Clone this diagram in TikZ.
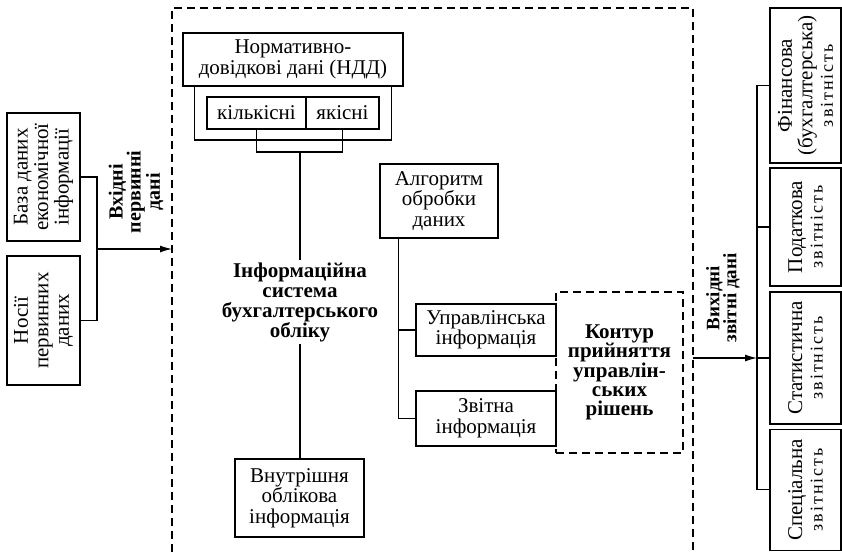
\documentclass[tikz,border=0pt]{standalone}
\usepackage{fontspec}
\setmainfont{Liberation Serif}
\newfontfamily\spacedserif[LetterSpace=11]{Liberation Serif}
\usetikzlibrary{arrows.meta}

\begin{document}
\begin{tikzpicture}[x=1pt, y=-1pt,
        box/.style={draw, line width=1.1pt, inner sep=1pt, align=center,
                    font=\fontsize{21}{20.5}\selectfont},
        sidebox/.style={box, rotate=90},
        bold/.style={align=center, inner sep=2pt, font=\fontsize{21}{20}\selectfont\bfseries},
        link/.style={line width=1.1pt},
        arr/.style={link, -{Latex[length=12pt, width=7pt]}},
        frame/.style={line width=1.1pt, dash pattern=on 8pt off 5pt}]
        \useasboundingbox (0,0) rectangle (842,552);

        % outer frame (open at the bottom)
        \draw[frame] (172,552) -- (172,8) -- (693,8) -- (693,552);

        % primary data sources
        \node[sidebox, minimum width=128pt, minimum height=73pt] (baza) at (43.5,177) {База даних\\економічної\\інформації};
        \node[sidebox, minimum width=129pt, minimum height=73pt] (nosii) at (43.5,320.5) {Носії\\первинних\\даних};
        \node[bold, rotate=90, font=\fontsize{20}{18}\selectfont\bfseries] (vkhid) at (136,192) {Вхідні\\первинні\\дані};

        % input
        \coordinate (inJ) at (97,249);
        \coordinate (inEnd) at (172,249);
        \draw[link] (baza.south) -| (inJ) |- (nosii.south);
        \draw[arr] (inJ) -- (inEnd);

        % NDD
        \node[box, minimum width=220pt, minimum height=53pt] (ndd) at (293,59.5) {Нормативно-\\довідкові дані (НДД)};
        \node[box, minimum width=99pt, minimum height=32pt] (kil) at (256.5,113) {кількісні};
        \node[box, minimum width=73pt, minimum height=32pt] (yak) at (342.5,113) {якісні};
        \coordinate (nddJ) at (293,140);
        \coordinate (kJ) at (300,152);
        \draw[link] ([xshift=12pt]ndd.south west) |- (nddJ) -| ([xshift=-12pt]ndd.south east);
        \draw[link] (kil.south) |- (kJ) -| (yak.south);

        % accounting system
        \node[bold] (isbo) at (300,302) {Інформаційна\\система\\бухгалтерського\\обліку};
        \node[box, minimum width=129pt, minimum height=78pt] (vnut) at (299.5,498) {Внутрішня\\облікова\\інформація};
        \draw[link] (kJ) -- (isbo.north);
        \draw[link] (isbo.south) -- (isbo.south |- vnut.north);

        % processing
        \node[box, minimum width=118pt, minimum height=74pt] (alg) at (439,201) {Алгоритм\\обробки\\даних};
        \node[box, minimum width=140pt, minimum height=52pt] (upr) at (486,330) {Управлінська\\інформація};
        \node[box, minimum width=140pt, minimum height=55pt] (zvit) at (486,418.5) {Звітна\\інформація};
        \draw[link] ([xshift=19pt]alg.south west) coordinate (algL) |- (zvit.west);
        \draw[link] (upr.west) -- (upr.west -| algL);

        % decision contour
        \node[frame, draw, align=center, minimum width=127pt, minimum height=161pt,
              font=\fontsize{21}{19}\selectfont\bfseries] (kontur) at (619.5,372.5)
              {Контур\\прийняття\\управлін-\\ських\\рішень};

        % output reports
        \node[bold, rotate=90, font=\fontsize{19}{17}\selectfont\bfseries] (vykhid) at (723,298) {Вихідні\\звітні дані};
        \node[sidebox, minimum width=155pt, minimum height=71pt] (fin) at (805.5,85.5)
              {Фінансова\\(бухгалтерська)\\{\spacedserif\fontsize{18}{18}\selectfont звітність}};
        \node[sidebox, minimum width=118pt, minimum height=71pt] (pod) at (805.5,227)
              {Податкова\\{\spacedserif\fontsize{18}{18}\selectfont звітність}};
        \node[sidebox, minimum width=132pt, minimum height=71pt] (stat) at (805.5,358)
              {Статистична\\{\spacedserif\fontsize{18}{18}\selectfont звітність}};
        \node[sidebox, minimum width=121pt, minimum height=71pt] (spec) at (805.5,489.75)
              {Спеціальна\\{\spacedserif\fontsize{18}{18}\selectfont звітність}};

        % output
        \coordinate (outS) at (693,358);
        \coordinate (outJ) at (757,358);
        \draw[arr] (outS) -- (outJ);
        \draw[link] (fin.north) -| (outJ) |- (spec.north);
        \draw[link] (pod.north) -- (pod.north -| outJ);
        \draw[link] (stat.north) -- (outJ);
\end{tikzpicture}
\end{document}
